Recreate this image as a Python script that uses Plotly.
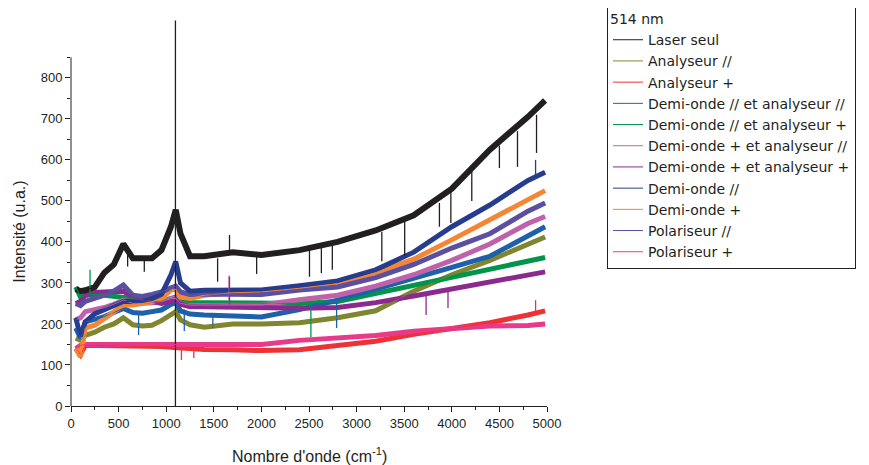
import plotly.graph_objects as go

# ---------------- data ----------------
wavenumber = [50, 100, 150, 250, 350, 450, 550, 650, 750, 850, 950, 1050, 1100, 1150,
              1250, 1400, 1700, 2000, 2400, 2800, 3200, 3600, 4000, 4400, 4800, 4980]

laser_seul      = [285, 280, 282, 290, 325, 345, 395, 360, 360, 360, 380, 437, 478, 420,
                   365, 365, 375, 368, 380, 400, 428, 465, 530, 625, 705, 745]
analyseur_par   = [165, 160, 172, 180, 192, 200, 215, 198, 195, 197, 208, 225, 230, 210,
                   198, 192, 200, 200, 203, 215, 232, 280, 320, 355, 395, 412]
analyseur_plus  = [140, 125, 148, 148, 147, 147, 146, 146, 145, 145, 145, 143, 142, 141,
                   140, 138, 137, 135, 137, 148, 158, 175, 188, 203, 222, 232]
do_par_an_par   = [190, 165, 205, 210, 218, 228, 238, 228, 226, 230, 234, 248, 252, 232,
                   224, 222, 220, 217, 235, 258, 285, 310, 338, 365, 415, 437]
do_par_an_plus  = [290, 265, 270, 272, 270, 268, 265, 262, 258, 255, 255, 262, 265, 255,
                   252, 252, 251, 250, 250, 255, 275, 292, 312, 335, 352, 362]
do_plus_an_par  = [210, 215, 230, 234, 240, 248, 258, 250, 250, 252, 254, 262, 262, 250,
                   246, 246, 246, 246, 259, 270, 292, 320, 355, 395, 445, 462]
do_plus_an_plus = [250, 255, 270, 277, 278, 278, 280, 265, 258, 255, 250, 255, 259, 248,
                   242, 242, 240, 239, 238, 240, 252, 268, 285, 305, 322, 327]
demi_onde_par   = [215, 170, 205, 225, 235, 245, 255, 255, 255, 262, 272, 320, 352, 300,
                   280, 282, 283, 283, 293, 305, 332, 375, 437, 490, 550, 570]
demi_onde_plus  = [140, 120, 190, 197, 213, 230, 246, 246, 250, 254, 262, 283, 285, 266,
                   262, 270, 276, 278, 287, 298, 325, 358, 405, 455, 505, 525]
polariseur_par  = [250, 245, 255, 262, 270, 280, 295, 270, 267, 272, 278, 288, 292, 278,
                   272, 273, 273, 272, 283, 290, 313, 345, 385, 420, 475, 495]
polariseur_plus = [140, 148, 150, 150, 150, 150, 150, 150, 150, 150, 150, 150, 150, 150,
                   150, 150, 150, 150, 160, 165, 172, 182, 188, 195, 196, 200]

# narrow spikes: position, start value, end value
laser_spk_x  = [595, 770, 1097, 1540, 1665, 1950, 2505, 2630, 2745, 3265, 3505, 3870, 3990, 4210, 4500, 4690, 4890]
laser_spk_lo = [380, 360, 0, 360, 375, 368, 385, 390, 395, 425, 450, 495, 525, 575, 635, 670, 710]
laser_spk_hi = [340, 327, 940, 303, 417, 322, 315, 324, 332, 353, 365, 437, 446, 500, 580, 583, 617]
green_spk_x  = [200, 2520]
green_spk_lo = [270, 250]
green_spk_hi = [332, 168]
blue_spk_x   = [710, 1190, 1490, 2790]
blue_spk_lo  = [228, 235, 222, 258]
blue_spk_hi  = [173, 183, 190, 190]
orchid_spk_x  = [1660]
orchid_spk_lo = [246]
orchid_spk_hi = [318]
red_spk_x    = [1160, 1290, 4880]
red_spk_lo   = [141, 140, 225]
red_spk_hi   = [112, 117, 258]
navy_spk_x   = [4880]
navy_spk_lo  = [560]
navy_spk_hi  = [600]
purple_spk_x  = [1665, 3730, 3960]
purple_spk_lo = [240, 272, 282]
purple_spk_hi = [315, 222, 239]

tick_x = [0, 500, 1000, 1500, 2000, 2500, 3000, 3500, 4000, 4500, 5000]
tick_y = [0, 100, 200, 300, 400, 500, 600, 700, 800]
minor_y = [50, 150, 250, 350, 450, 550, 650, 750, 850]

# legend order
series = [
    ("Laser seul", laser_seul, "#231f20", laser_spk_x, laser_spk_lo, laser_spk_hi),
    ("Analyseur //", analyseur_par, "#80862f", [], [], []),
    ("Analyseur +", analyseur_plus, "#ed3237", red_spk_x, red_spk_lo, red_spk_hi),
    ("Demi-onde // et analyseur //", do_par_an_par, "#1f60ab", blue_spk_x, blue_spk_lo, blue_spk_hi),
    ("Demi-onde // et analyseur +", do_par_an_plus, "#00954a", green_spk_x, green_spk_lo, green_spk_hi),
    ("Demi-onde + et analyseur //", do_plus_an_par, "#c062aa", orchid_spk_x, orchid_spk_lo, orchid_spk_hi),
    ("Demi-onde + et analyseur +", do_plus_an_plus, "#8b2a8e", purple_spk_x, purple_spk_lo, purple_spk_hi),
    ("Demi-onde //", demi_onde_par, "#283c8e", navy_spk_x, navy_spk_lo, navy_spk_hi),
    ("Demi-onde +", demi_onde_plus, "#f58634", [], [], []),
    ("Polariseur //", polariseur_par, "#5a4fa1", [], [], []),
    ("Polariseur +", polariseur_plus, "#e93a8a", [], [], []),
]
draw_order = ["Analyseur +", "Polariseur +", "Analyseur //", "Demi-onde // et analyseur +",
              "Demi-onde // et analyseur //", "Demi-onde + et analyseur //",
              "Demi-onde + et analyseur +", "Demi-onde +", "Polariseur //", "Demi-onde //",
              "Laser seul"]

fig = go.Figure()
lookup = {s[0]: s for s in series}

# noisy band (thick line)
for name in draw_order:
    _, vals, col, sx, slo, shi = lookup[name]
    fig.add_trace(go.Scatter(x=wavenumber, y=vals, mode="lines", name=name,
                             line=dict(color=col, width=5 if name != "Laser seul" else 6),
                             legendgroup=name, showlegend=False, hoverinfo="skip"))
# spikes
for name in draw_order:
    _, vals, col, sx, slo, shi = lookup[name]
    xs, ys = [], []
    for a, b, c in zip(sx, slo, shi):
        xs += [a, a, None]
        ys += [b, c, None]
    if xs:
        fig.add_trace(go.Scatter(x=xs, y=ys, mode="lines", line=dict(color=col, width=1.3),
                                 legendgroup=name, showlegend=False, hoverinfo="skip"))
# thin lines carrying the legend entries
for name, vals, col, *_ in series:
    fig.add_trace(go.Scatter(x=wavenumber, y=vals, mode="lines", name=name,
                             line=dict(color=col, width=1), legendgroup=name))

font_family = "Liberation Sans, Arial, sans-serif"

# the page body adds an 8 px offset, margins compensate for it
fig.update_layout(
    width=869, height=465,
    margin=dict(l=63, r=330, t=12, b=67, autoexpand=False),
    paper_bgcolor="white", plot_bgcolor="white",
    font=dict(family=font_family, size=13, color="#231f20"),
    showlegend=True,
    legend=dict(x=1.126, xanchor="left", y=1.039, yanchor="top",
                bordercolor="#231f20", borderwidth=1, bgcolor="white",
                font=dict(size=14, color="#231f20", family="DejaVu Sans, sans-serif"),
                title=dict(text="514 nm", font=dict(size=14)),
                traceorder="normal", tracegroupgap=0, itemwidth=30, maxheight=420),
    xaxis=dict(range=[0, 5000], showline=True, linecolor="#231f20", linewidth=1,
               showgrid=False, zeroline=False, ticks="outside", ticklen=5,
               tickcolor="#231f20", tickmode="array", tickvals=tick_x,
               minor=dict(ticks="outside", ticklen=3, dtick=250, tick0=0,
                          tickcolor="#231f20", showgrid=False),
               tickfont=dict(size=13)),
    yaxis=dict(range=[0, 941], showline=False, showgrid=False, zeroline=False,
               ticks="outside", ticklen=5, tickcolor="#231f20",
               tickmode="array", tickvals=tick_y,
               minor=dict(ticks="outside", ticklen=3, tickmode="array", tickvals=minor_y,
                          tickcolor="#231f20", showgrid=False),
               tickfont=dict(size=13)),
    shapes=[dict(type="line", xref="paper", yref="y", x0=0, x1=0, y0=0, y1=850,
                 line=dict(color="#231f20", width=1), layer="above")],
    annotations=[
        dict(text="Intensité (u.a.)", xref="paper", yref="y", x=0, y=425,
             xanchor="center", yanchor="middle",
             xshift=-51, textangle=-90, showarrow=False, font=dict(size=16)),
        dict(text="Nombre d'onde (cm<sup>-1</sup>)", xref="x", yref="paper", x=2500, y=0,
             xanchor="center", yanchor="middle",
             yshift=-49, showarrow=False, font=dict(size=16)),
    ],
)

fig.write_html("out.html")
